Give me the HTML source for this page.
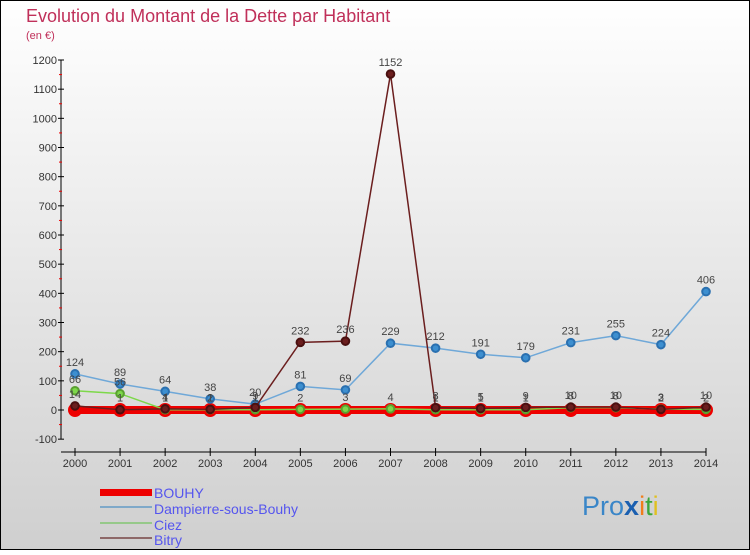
<!DOCTYPE html>
<html><head><meta charset="utf-8"><style>
html,body{margin:0;padding:0}
body{width:750px;height:550px;overflow:hidden;font-family:"Liberation Sans",sans-serif}
</style></head><body>
<svg id="chart" width="750" height="550" xmlns="http://www.w3.org/2000/svg">
<defs><linearGradient id="bg" x1="0" y1="0" x2="0" y2="1"><stop offset="0" stop-color="#ffffff"/><stop offset="1" stop-color="#cfcfcf"/></linearGradient></defs>
<rect x="0" y="0" width="750" height="550" fill="url(#bg)" stroke="#000" stroke-width="2"/>
<text x="26" y="22" font-size="18" fill="#c0305a">Evolution du Montant de la Dette par Habitant</text>
<text x="26" y="39" font-size="11" fill="#c0305a">(en €)</text>
<g id="axes"></g><g id="series"></g>
<g>
<rect x="100" y="489" width="52" height="7" fill="#e00"/>
<line x1="100" y1="507" x2="152" y2="507" stroke="#7fa9c9" stroke-width="2"/>
<line x1="100" y1="523" x2="152" y2="523" stroke="#96c98a" stroke-width="2"/>
<line x1="100" y1="538" x2="152" y2="538" stroke="#8d6868" stroke-width="2"/>
<g font-size="14" fill="#5555ee">
<text x="154" y="498">BOUHY</text>
<text x="154" y="514">Dampierre-sous-Bouhy</text>
<text x="154" y="530">Ciez</text>
<text x="154" y="545">Bitry</text>
</g></g>
<text x="582" y="515" font-size="27"><tspan fill="#3a86c8">Pro</tspan><tspan fill="#1a5fb0" font-weight="bold">x</tspan><tspan fill="#f07d1a">i</tspan><tspan fill="#3aa63a">t</tspan><tspan fill="#e0c020">i</tspan></text>
</svg>
<script>
const years=[2000,2001,2002,2003,2004,2005,2006,2007,2008,2009,2010,2011,2012,2013,2014];
const yTicks=[-100,0,100,200,300,400,500,600,700,800,900,1000,1100,1200];
const bouhy=[0,0,0,0,0,0,0,0,0,0,0,0,0,0,0];
const dampierre=[124,89,64,38,20,81,69,229,212,191,179,231,255,224,406];
const ciez=[66,56,1,1,1,2,3,4,1,1,1,8,8,3,2];
const bitry=[14,1,4,2,9,232,236,1152,8,5,9,10,10,2,10];
const NS="http://www.w3.org/2000/svg";
const X=i=>75+i*(706-75)/(years.length-1);
const Y=v=>410-v*(350/1200);
const ax=document.getElementById('axes'),sg=document.getElementById('series');
function mk(t,a,p){const e=document.createElementNS(NS,t);for(const k in a)e.setAttribute(k,a[k]);p.appendChild(e);return e;}
let e=mk('line',{x1:61,y1:Y(1200),x2:61,y2:Y(-100),stroke:'#000'},ax);


e=mk('line',{x1:61,y1:452,x2:706,y2:452,stroke:'#000'},ax);


yTicks.forEach(v=>{mk('line',{x1:58,y1:Y(v),x2:64,y2:Y(v),stroke:'#000'},ax);
if(v<1200)mk('line',{x1:59,y1:Y(v+50),x2:62,y2:Y(v+50),stroke:'#e00'},ax);
const t=mk('text',{x:57,y:Y(v)+4,'font-size':11,'text-anchor':'end',fill:'#333'},ax);t.textContent=v;

});
years.forEach((y,i)=>{mk('line',{x1:X(i),y1:448,x2:X(i),y2:456,stroke:'#000'},ax);
const t=mk('text',{x:X(i),y:467,'font-size':11,'text-anchor':'middle',fill:'#333'},ax);t.textContent=y;

});
function series(data,name,line,width,dot,dotStroke,r,labels){
const g=mk('g',{},sg);


mk('polyline',{points:data.map((v,i)=>X(i)+','+Y(v)).join(' '),fill:'none',stroke:line,'stroke-width':width},g);
data.forEach((v,i)=>{const c=mk('circle',{cx:X(i),cy:Y(v),r:r,fill:dot,stroke:dotStroke,'stroke-width':2},g);


if(labels){const t=mk('text',{x:X(i),y:Y(v)-8,'font-size':11,'text-anchor':'middle',fill:'#444'},g);t.textContent=v;

}});}
series(bouhy,'bouhy','#e00',8,'#e00','#e00',6,false);
series(dampierre,'dampierre','#6fa8d8',1.5,'#3d8fd0','#2a70b0',3.8,true);
series(ciez,'ciez','#7dd84a',1.5,'#7dd84a','#5aa030',3.8,true);
series(bitry,'bitry','#6b1e1e',1.5,'#6b1e1e','#4a1010',3.8,true);
</script>
</body></html>
